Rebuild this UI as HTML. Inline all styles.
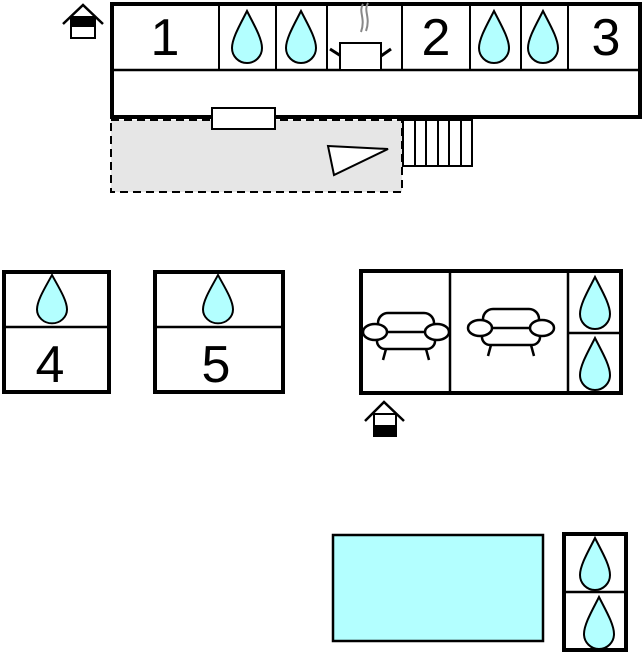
<!DOCTYPE html>
<html><head><style>html,body{margin:0;padding:0;background:#fff}svg{display:block}</style></head>
<body>
<svg width="644" height="652" viewBox="0 0 644 652" xmlns="http://www.w3.org/2000/svg" font-family="Liberation Sans, sans-serif">
<defs>
<path id="d" d="M0,0 C6,12 15,27 15,37 A15,15 0 0 1 -15,37 C-15,27 -6,12 0,0 Z" fill="#b3ffff" stroke="#000" stroke-width="2"/>
<g id="sofa" fill="#fff" stroke="#000" stroke-width="2.5">
<rect x="-28" y="-19" width="56" height="24" rx="10"/>
<line x1="-20" y1="17" x2="-23" y2="28"/><line x1="20" y1="17" x2="23" y2="28"/>
<rect x="-29" y="0" width="58" height="17" rx="8"/>
<ellipse cx="-31" cy="0" rx="12" ry="8"/><ellipse cx="31" cy="0" rx="12" ry="8"/>
</g>
</defs>
<rect x="111" y="120" width="291" height="72" fill="#e6e6e6" stroke="#000" stroke-width="2" stroke-dasharray="8,5"/>
<rect x="112" y="4" width="528" height="113" fill="#fff" stroke="#000" stroke-width="4"/>
<line x1="112" y1="70" x2="640" y2="70" stroke="#000" stroke-width="2.5"/>
<g stroke="#000" stroke-width="2">
<line x1="219" y1="4" x2="219" y2="70"/><line x1="276" y1="4" x2="276" y2="70"/>
<line x1="327" y1="4" x2="327" y2="70"/><line x1="402" y1="4" x2="402" y2="70"/>
<line x1="470" y1="4" x2="470" y2="70"/><line x1="521" y1="4" x2="521" y2="70"/>
<line x1="568" y1="4" x2="568" y2="70"/>
</g>
<g font-size="52" text-anchor="middle">
<text x="165" y="55">1</text><text x="436" y="55">2</text><text x="606" y="55">3</text>
</g>
<use href="#d" x="247" y="11"/><use href="#d" x="301" y="11"/>
<use href="#d" x="494" y="11"/><use href="#d" x="543" y="11"/>
<path d="M363,4 C358,12 366,18 361,32 M368,3 C363,11 371,17 366,31" fill="none" stroke="#888" stroke-width="2"/>
<line x1="330" y1="49" x2="341" y2="56" stroke="#000" stroke-width="3"/>
<line x1="391" y1="49" x2="381" y2="56" stroke="#000" stroke-width="3"/>
<rect x="340" y="43" width="41" height="27" fill="#fff" stroke="#000" stroke-width="2"/>
<rect x="212" y="108" width="63" height="21" fill="#fff" stroke="#000" stroke-width="2"/>
<rect x="403" y="120" width="69" height="46" fill="#fff" stroke="#000" stroke-width="2"/>
<g stroke="#000" stroke-width="2">
<line x1="415" y1="120" x2="415" y2="166"/><line x1="426" y1="120" x2="426" y2="166"/>
<line x1="438" y1="120" x2="438" y2="166"/><line x1="449" y1="120" x2="449" y2="166"/>
<line x1="461" y1="120" x2="461" y2="166"/>
</g>
<polygon points="328,146 388,149 334,175" fill="#fff" stroke="#000" stroke-width="2"/>
<polyline points="63,24 83,5 103,24" fill="none" stroke="#000" stroke-width="2.5"/>
<rect x="71" y="17" width="24" height="21" fill="#fff" stroke="#000" stroke-width="2"/>
<rect x="71" y="17" width="24" height="10" fill="#000"/>
<rect x="4" y="272" width="105" height="120" fill="#fff" stroke="#000" stroke-width="4"/>
<line x1="4" y1="327" x2="109" y2="327" stroke="#000" stroke-width="2.5"/>
<use href="#d" x="52" y="275" transform="translate(52,275) scale(1,0.93) translate(-52,-275)"/>
<text x="50" y="382" font-size="52" text-anchor="middle">4</text>
<rect x="155" y="272" width="128" height="120" fill="#fff" stroke="#000" stroke-width="4"/>
<line x1="155" y1="327" x2="283" y2="327" stroke="#000" stroke-width="2.5"/>
<use href="#d" x="218" y="275" transform="translate(218,275) scale(1,0.93) translate(-218,-275)"/>
<text x="216" y="382" font-size="52" text-anchor="middle">5</text>
<rect x="361" y="271" width="260" height="122" fill="#fff" stroke="#000" stroke-width="4"/>
<line x1="450" y1="271" x2="450" y2="393" stroke="#000" stroke-width="2.5"/>
<line x1="568" y1="271" x2="568" y2="393" stroke="#000" stroke-width="2.5"/>
<line x1="568" y1="333" x2="621" y2="333" stroke="#000" stroke-width="2.5"/>
<use href="#d" x="595" y="277"/><use href="#d" x="595" y="338"/>
<use href="#sofa" x="406" y="332"/>
<use href="#sofa" x="511" y="328"/>
<polyline points="365,421 384,402 404,421" fill="none" stroke="#000" stroke-width="2.5"/>
<rect x="374" y="414" width="22" height="22" fill="#fff" stroke="#000" stroke-width="2"/>
<rect x="374" y="425" width="22" height="12" fill="#000"/>
<rect x="333" y="535" width="210" height="106" fill="#b3ffff" stroke="#000" stroke-width="2.5"/>
<rect x="564" y="534" width="62" height="116" fill="#fff" stroke="#000" stroke-width="4"/>
<line x1="564" y1="592" x2="626" y2="592" stroke="#000" stroke-width="2.5"/>
<use href="#d" x="595" y="538"/><use href="#d" x="599" y="597"/>
</svg>
</body></html>
